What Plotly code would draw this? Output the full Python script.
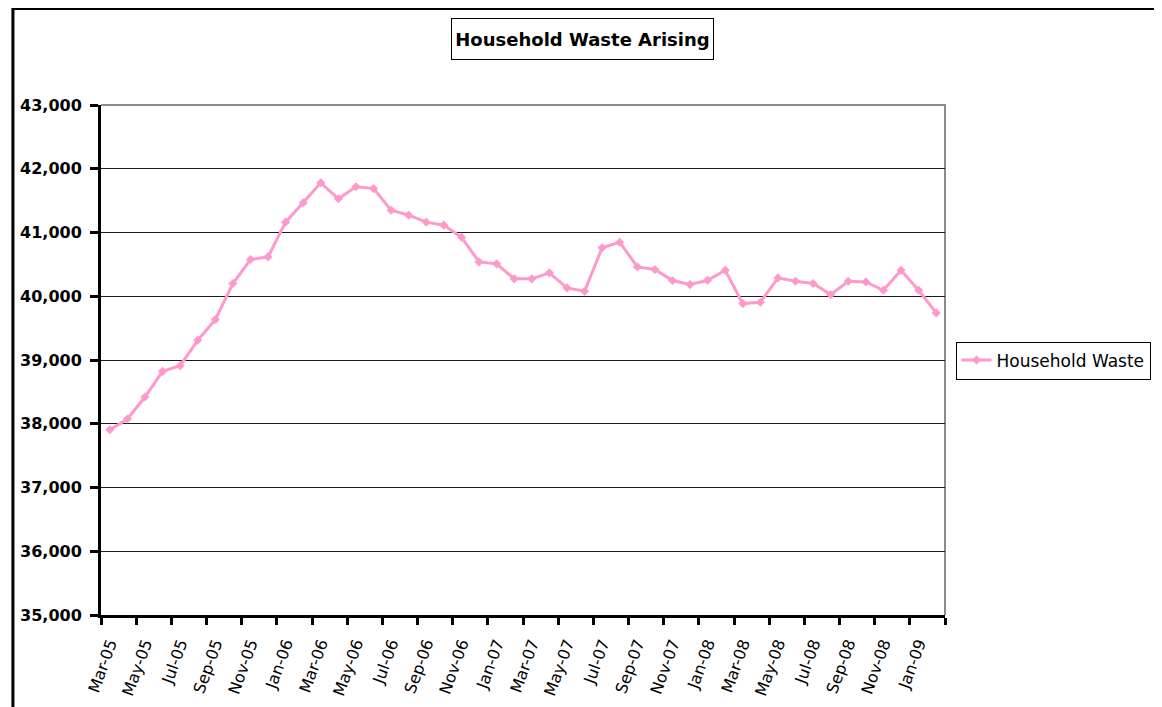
import plotly.graph_objects as go

months = ["Mar-05", "Apr-05", "May-05", "Jun-05", "Jul-05", "Aug-05", "Sep-05", "Oct-05",
          "Nov-05", "Dec-05", "Jan-06", "Feb-06", "Mar-06", "Apr-06", "May-06", "Jun-06",
          "Jul-06", "Aug-06", "Sep-06", "Oct-06", "Nov-06", "Dec-06", "Jan-07", "Feb-07",
          "Mar-07", "Apr-07", "May-07", "Jun-07", "Jul-07", "Aug-07", "Sep-07", "Oct-07",
          "Nov-07", "Dec-07", "Jan-08", "Feb-08", "Mar-08", "Apr-08", "May-08", "Jun-08",
          "Jul-08", "Aug-08", "Sep-08", "Oct-08", "Nov-08", "Dec-08", "Jan-09", "Feb-09"]

household_waste = [37906, 38074, 38419, 38822, 38911, 39309, 39634, 40199,
                   40576, 40618, 41162, 41466, 41780, 41529, 41717, 41691,
                   41350, 41272, 41162, 41115, 40926, 40539, 40508, 40273,
                   40273, 40367, 40131, 40079, 40760, 40848, 40461, 40419,
                   40246, 40183, 40251, 40408, 39885, 39906, 40288, 40235,
                   40199, 40026, 40235, 40225, 40094, 40408, 40094, 39739]

y_ticks = [35000, 36000, 37000, 38000, 39000, 40000, 41000, 42000, 43000]

FONT = "DejaVu Sans"
PINK = "#FF99CC"

# page has an 8px body margin; plot area in page px: x 97..945, y 105..615
L, T, PW, PH = 89, 97, 848, 510

fig = go.Figure()
fig.add_trace(go.Scatter(
    x=months, y=household_waste, mode="lines+markers", name="Household Waste",
    line=dict(color=PINK, width=3),
    marker=dict(symbol="diamond", size=7, color=PINK),
))

fig.update_layout(
    width=1162, height=707,
    margin=dict(l=L, r=1162 - L - PW, t=T, b=707 - T - PH),
    paper_bgcolor="white", plot_bgcolor="white",
    showlegend=True,
    legend=dict(
        x=1.0125, xanchor="left", y=0.499, yanchor="middle",
        bordercolor="black", borderwidth=1, bgcolor="white",
        font=dict(family=FONT, size=17, color="black"),
        itemwidth=30, tracegroupgap=0,
    ),
    xaxis=dict(
        type="category", range=[-0.5, 47.5],
        tickson="boundaries", dtick=2,
        ticks="outside", ticklen=7, tickwidth=3, tickcolor="black",
        tickangle=-70, ticklabelstandoff=10,
        tickfont=dict(family=FONT, size=16, color="black"),
        showline=True, linecolor="black", linewidth=3,
        showgrid=False, zeroline=False,
    ),
    yaxis=dict(
        range=[35000, 43000], tickvals=y_ticks, tickformat=",",
        ticks="outside", ticklen=8, tickwidth=3, tickcolor="black",
        ticklabelstandoff=5,
        tickfont=dict(family=FONT, size=16, color="black", weight="bold"),
        showline=True, linecolor="black", linewidth=3,
        showgrid=True, gridcolor="#1a1a1a", gridwidth=1,
        zeroline=False,
    ),
    shapes=[
        # outer chart border
        dict(type="rect", xref="paper", yref="paper",
             x0=(0.5 - L) / PW, x1=2.0, y0=-2.0, y1=(T + PH - 0.5) / PH,
             line=dict(color="black", width=3), layer="above"),
        # plot area border (top and right)
        dict(type="path", xref="paper", yref="paper",
             path="M 0,1 L 1,1 L 1,0",
             line=dict(color="#8c8c8c", width=2), layer="below"),
    ],
    annotations=[
        dict(text="<b>Household Waste Arising</b>", xref="paper", yref="paper",
             x=(580.5 - 8 - L) / PW, y=(T + PH - 31) / PH,
             xanchor="center", yanchor="middle",
             showarrow=False, width=255, height=34,
             font=dict(family=FONT, size=18, color="black"),
             bordercolor="black", borderwidth=1, borderpad=3, bgcolor="white"),
    ],
)

fig.write_html("out.html")
